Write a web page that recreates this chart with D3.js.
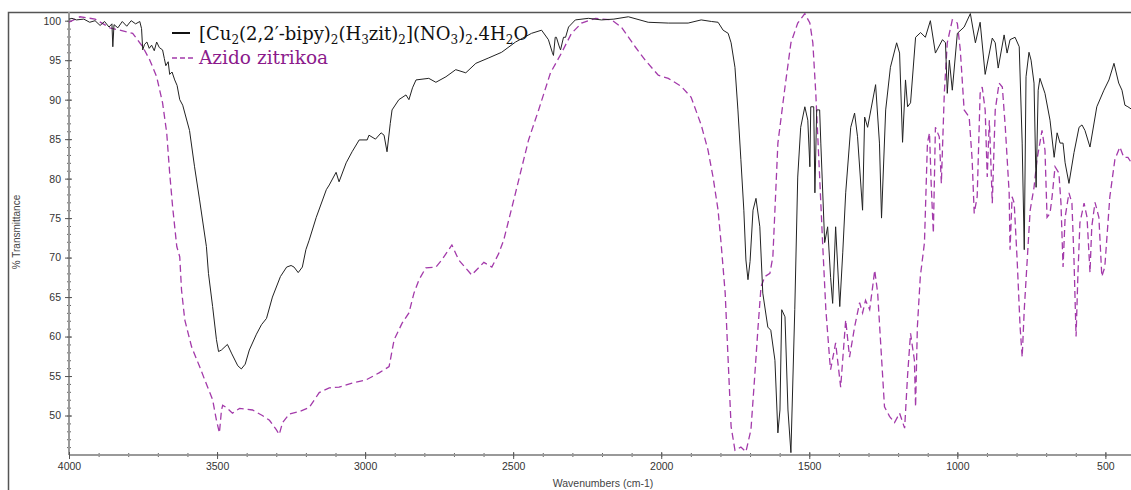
<!DOCTYPE html>
<html>
  <head>
    <title>IR spectra</title>
    <script src="https://d3js.org/d3.v7.min.js"></script>
    <style>
      body { margin: 0; background: #fff; }
      .tick text { font-family: "Liberation Sans", Arial, sans-serif; font-size: 10.5px; fill: #333; }
    </style>
  </head>
  <body>
    <div id="chart"></div>
    <script>
      // black spectrum: [Cu2(2,2'-bipy)2(H3zit)2](NO3)2.4H2O
      var cuWavenumber = [4000,3990,3975,3950,3930,3912,3895,3880,3865,3855,3852,3848,3835,3820,3805,3790,3775,3761,3755,3751,3745,3737,3729,3721,3712,3704,3695,3684,3678,3673,3665,3660,3652,3643,3635,3626,3616,3593,3576,3559,3536,3529,3515,3502,3495,3485,3465,3450,3430,3418,3405,3391,3367,3350,3333,3313,3286,3265,3250,3240,3226,3212,3200,3189,3165,3131,3121,3098,3088,3064,3044,3020,2993,2987,2965,2946,2936,2926,2915,2909,2886,2862,2852,2840,2828,2785,2761,2727,2694,2660,2626,2582,2539,2492,2438,2404,2381,2368,2364,2358,2354,2345,2340,2330,2323,2313,2290,2246,2202,2160,2111,2044,1976,1909,1865,1830,1808,1791,1774,1764,1751,1741,1731,1721,1714,1707,1700,1690,1680,1667,1657,1640,1630,1616,1606,1599,1593,1582,1572,1562,1549,1539,1529,1515,1505,1498,1495,1485,1481,1475,1465,1461,1448,1438,1428,1421,1411,1397,1387,1377,1360,1347,1337,1320,1313,1303,1276,1263,1256,1242,1226,1205,1195,1185,1175,1168,1158,1141,1124,1108,1091,1074,1050,1040,1034,1027,1017,1000,977,956,939,923,906,882,872,862,842,832,822,805,791,781,774,768,758,751,741,734,727,721,704,687,673,663,653,643,636,623,606,589,579,569,552,529,505,488,471,455,444,434,424,400];
      var cuTransmittance = [100.2,100.3,100.1,100.2,99.8,100.0,99.4,99.9,99.2,99.6,96.7,99.5,99.1,99.9,99.3,100.0,99.6,99.9,99.0,96.3,97.0,97.3,96.5,96.9,96.2,97.3,96.6,96.3,95.2,94.3,94.8,93.2,93.5,92.5,91.8,90.0,89.3,86.1,81.5,77.3,71.4,68.0,63.8,59.6,58.1,58.3,59.0,57.8,56.3,55.9,56.5,58.3,60.3,61.5,62.3,65.0,67.6,68.8,69.0,68.8,68.1,68.8,71.0,72.2,75.1,78.6,79.2,80.8,79.6,82.0,83.4,84.9,84.9,85.5,85.0,85.8,85.5,83.4,87.0,88.7,90.0,90.6,90.0,91.5,92.5,92.7,92.2,92.9,93.8,93.4,94.6,95.3,96.0,97.3,98.4,98.8,97.6,96.0,95.6,97.9,97.9,96.8,96.3,97.9,97.9,99.2,100.1,100.3,100.1,100.2,100.5,99.8,99.7,99.7,100.1,99.9,99.8,98.8,98.4,97.2,94.1,88.7,82.4,76.0,69.7,67.2,69.5,76.0,77.5,73.9,65.5,61.2,60.8,57.0,47.8,50.7,63.4,62.5,50.7,45.3,63.4,80.2,86.5,89.1,87.4,81.5,89.1,89.1,78.2,88.7,88.7,84.5,71.9,73.9,67.5,64.2,73.9,63.8,70.6,78.2,86.5,88.3,85.3,76.0,87.8,86.5,91.9,84.5,75.0,88.7,94.1,97.2,95.9,84.6,92.5,89.1,89.6,97.9,98.5,97.9,100.0,95.9,97.6,97.2,90.8,95.0,91.2,98.4,99.2,100.9,97.2,99.8,93.2,97.8,97.2,94.0,98.2,95.9,97.6,97.9,96.7,84.5,71.0,92.9,96.0,95.0,92.1,78.9,91.2,92.7,90.8,87.4,82.7,85.8,84.5,84.5,82.0,79.4,83.3,86.5,86.8,86.1,84.0,89.1,91.2,92.5,94.6,92.1,91.2,89.3,89.1,88.5];

      // dashed spectrum: Azido zitrikoa
      var azWavenumber = [4000,3963,3912,3862,3785,3751,3727,3704,3684,3670,3660,3650,3636,3626,3620,3609,3586,3559,3532,3515,3502,3492,3485,3481,3468,3448,3424,3380,3347,3323,3300,3290,3279,3256,3222,3189,3155,3121,3088,3044,2997,2953,2919,2902,2875,2852,2835,2818,2795,2761,2741,2707,2684,2640,2599,2572,2549,2532,2492,2448,2414,2374,2337,2303,2269,2222,2168,2135,2088,2054,2010,1976,1933,1899,1865,1842,1825,1808,1798,1784,1774,1764,1751,1731,1714,1697,1684,1673,1663,1650,1633,1623,1616,1606,1582,1562,1539,1515,1498,1488,1478,1465,1455,1444,1431,1428,1411,1394,1377,1364,1347,1330,1320,1310,1296,1286,1279,1269,1259,1246,1229,1212,1195,1178,1168,1158,1145,1141,1135,1125,1111,1101,1094,1088,1081,1074,1061,1054,1044,1034,1017,1000,990,977,960,950,943,933,923,916,906,899,892,889,882,872,859,848,838,825,822,815,808,798,788,781,774,764,754,741,731,714,704,697,687,680,670,657,650,643,636,623,613,606,599,593,586,572,562,552,546,535,522,512,502,485,468,451,438,424,400];
      var azTransmittance = [99.8,100.5,100.2,99.1,98.4,96.7,95.0,92.9,89.6,85.8,80.7,76.4,71.4,70.1,65.9,62.1,58.7,56.2,53.6,52.0,49.4,47.8,50.7,51.3,51.0,50.3,50.9,50.7,50.0,49.4,48.2,47.6,49.1,50.2,50.5,51.0,52.9,53.5,53.6,54.1,54.5,55.4,56.2,59.6,61.7,63.0,65.5,67.2,68.7,68.8,69.7,71.6,69.7,67.8,69.4,68.8,70.5,72.2,78.2,84.9,88.7,93.4,95.9,98.4,99.7,100.3,100.1,99.2,96.7,95.0,93.1,92.7,91.7,90.3,86.8,83.6,80.2,76.0,71.9,65.5,57.0,48.6,45.6,46.0,45.4,48.2,55.1,61.2,66.3,67.6,68.0,70.1,76.0,84.5,91.6,97.2,99.7,100.9,99.7,97.2,90.8,80.2,71.9,63.4,57.0,55.8,59.2,53.6,62.1,57.4,61.2,64.3,63.0,64.6,63.4,66.3,68.4,65.5,59.2,51.1,49.9,49.1,50.3,48.4,55.1,60.4,57.0,51.1,61.2,67.6,71.9,84.5,85.8,79.0,73.1,86.5,85.3,79.4,90.8,97.2,100.1,99.7,96.3,88.7,87.8,82.4,75.6,77.7,90.8,91.6,88.7,80.2,87.4,84.5,76.9,88.7,92.1,91.6,86.5,78.2,71.0,77.7,76.9,69.7,61.2,57.4,63.4,69.7,76.0,78.9,82.4,86.1,83.6,75.1,75.6,77.7,81.5,80.7,76.9,68.8,75.1,78.2,76.9,69.7,60.0,67.6,74.4,76.9,75.1,68.1,73.9,77.0,75.1,67.6,68.8,77.7,82.4,84.0,82.7,82.7,81.3];

      var xMajorTicks = [4000,3500,3000,2500,2000,1500,1000,500];
      var yMajorTicks = [50,55,60,65,70,75,80,85,90,95,100];

      var W = 1131, H = 490;
      var svg = d3.select("#chart").append("svg")
        .attr("width", W).attr("height", H);

      var x = d3.scaleLinear().domain([4000, 400]).range([69, 1135]);
      var y = d3.scaleLinear().domain([45, 100]).range([455, 20.7]);

      // outer frame (left and top visible)
      svg.append("path")
        .attr("d", "M8.5,490 L8.5,12.5 L1131,12.5")
        .attr("fill", "none").attr("stroke", "#555").attr("stroke-width", 1.5);

      // minor ticks
      var yMinor = d3.range(46, 101, 1);
      var xMinor = d3.range(400, 4001, 100);

      var yAxisMinor = svg.append("g")
        .attr("transform", "translate(69,0)")
        .call(d3.axisLeft(y).tickValues(yMinor).tickSize(2).tickFormat(""));
      yAxisMinor.selectAll("line").attr("x1", 2).attr("stroke", "#666");
      yAxisMinor.select(".domain").remove();

      var xAxisMinor = svg.append("g")
        .attr("transform", "translate(0,455)")
        .call(d3.axisBottom(x).tickValues(xMinor).tickSize(2).tickFormat(""));
      xAxisMinor.selectAll("line").attr("y1", -2).attr("stroke", "#666");
      xAxisMinor.select(".domain").remove();

      var yAxis = svg.append("g")
        .attr("transform", "translate(69,0)")
        .call(d3.axisLeft(y).tickValues(yMajorTicks).tickSize(4).tickPadding(4).tickFormat(d3.format("d")));
      yAxis.selectAll("line").attr("x1", 3).attr("stroke", "#555");
      yAxis.select(".domain").attr("d", "M0,12V455").attr("stroke", "#999").attr("stroke-width", 2);

      var xAxis = svg.append("g")
        .attr("transform", "translate(0,455)")
        .call(d3.axisBottom(x).tickValues(xMajorTicks).tickSize(4).tickPadding(4).tickFormat(d3.format("d")));
      xAxis.selectAll("line").attr("y1", -3).attr("stroke", "#555");
      xAxis.select(".domain").attr("d", "M69,0H1131").attr("stroke", "#999").attr("stroke-width", 2);

      svg.append("text")
        .attr("transform", "translate(20,232) rotate(-90)")
        .attr("text-anchor", "middle")
        .attr("font-family", "Liberation Sans, Arial, sans-serif")
        .attr("font-size", 10).attr("fill", "#444")
        .text("% Transmittance");

      svg.append("text")
        .attr("x", 603).attr("y", 487)
        .attr("text-anchor", "middle")
        .attr("font-family", "Liberation Sans, Arial, sans-serif")
        .attr("font-size", 10.5).attr("fill", "#444")
        .text("Wavenumbers (cm-1)");

      svg.append("clipPath").attr("id", "plotclip")
        .append("rect").attr("x", 69).attr("y", 13).attr("width", 1070).attr("height", 443);

      var line = d3.line()
        .x(d => x(d[0]))
        .y(d => y(d[1]));

      var azData = d3.zip(azWavenumber, azTransmittance);
      var cuData = d3.zip(cuWavenumber, cuTransmittance);

      svg.append("path")
        .datum(azData)
        .attr("clip-path", "url(#plotclip)")
        .attr("fill", "none")
        .attr("stroke", "#a33aaa")
        .attr("stroke-width", 1.3)
        .attr("stroke-dasharray", "7,4")
        .attr("d", line);

      svg.append("path")
        .datum(cuData)
        .attr("clip-path", "url(#plotclip)")
        .attr("fill", "none")
        .attr("stroke", "#222")
        .attr("stroke-width", 1)
        .attr("d", line);

      // legend
      var legend = svg.append("g").attr("font-family", "DejaVu Serif, serif");
      legend.append("line")
        .attr("x1", 172).attr("x2", 190).attr("y1", 33).attr("y2", 33)
        .attr("stroke", "#111").attr("stroke-width", 2);
      var t1 = legend.append("text").attr("x", 199).attr("y", 40)
        .attr("font-size", 18).attr("fill", "#111");
      var parts = [["[Cu",0],["2",1],["(2,2\u2032-bipy)",0],["2",1],["(H",0],["3",1],["zit)",0],["2",1],["](NO",0],["3",1],[")",0],["2",1],[".4H",0],["2",1],["O",0]];
      parts.forEach(function(p, i) {
        var s = t1.append("tspan").text(p[0]);
        if (p[1]) s.attr("font-size", 12).attr("dy", 4);
        else if (i > 0 && parts[i-1][1] === 1) s.attr("dy", -4);
      });

      legend.append("line")
        .attr("x1", 172).attr("x2", 195).attr("y1", 58).attr("y2", 58)
        .attr("stroke", "#a33aaa").attr("stroke-width", 1.3).attr("stroke-dasharray", "5,3");
      legend.append("text").attr("x", 199).attr("y", 64)
        .attr("font-size", 18.5).attr("fill", "#8b1a8b")
        .text("Azido zitrikoa");
    </script>
  </body>
</html>
